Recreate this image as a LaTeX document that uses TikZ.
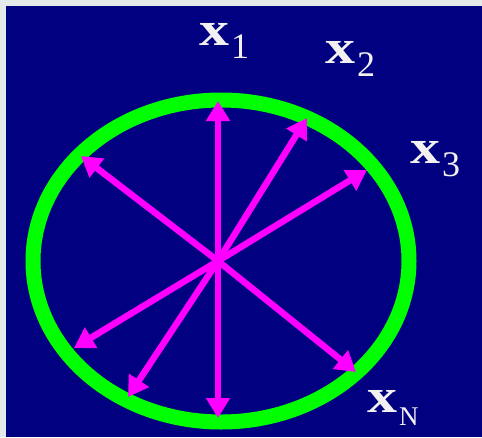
\documentclass[tikz,border=0pt]{standalone}
\usepackage{fontspec}
\setmainfont{Liberation Serif}
\usetikzlibrary{arrows.meta,shapes.geometric}
\definecolor{navybg}{RGB}{0,0,128}
\definecolor{ringgreen}{RGB}{0,255,0}
\definecolor{arrmag}{RGB}{255,0,255}
\definecolor{framegray}{RGB}{228,232,232}
\definecolor{lblwhite}{RGB}{242,240,240}
\newcommand{\lbltext}[2]{\scalebox{1.25}[1]{\fontsize{48}{48}\selectfont\bfseries x}\hspace{2pt}\raisebox{-13pt}{\fontsize{#2}{#2}\selectfont #1}}
\tikzset{
  ray/.style={draw=arrmag, line width=6.5pt, -{Triangle[length=20pt,width=23pt]}},
  ring/.style={draw=ringgreen, line width=15pt},
  lbl/.style={text=lblwhite, anchor=base west, inner sep=0pt}
}
\begin{document}
\begin{tikzpicture}[x=1pt,y=-1pt]
\useasboundingbox (0,0) rectangle (482,437);
\fill[framegray] (0,0) rectangle (482,437);
\fill[navybg] (6,6) rectangle (482,437);
\node[ring, ellipse, minimum width=376pt, minimum height=322pt, inner sep=0pt, outer sep=0pt] (ring) at (221,261) {};
\coordinate (c) at (218,261);
\coordinate (t1) at (218,101);
\coordinate (t2) at (307,118);
\coordinate (t3) at (367,170);
\coordinate (tul) at (81,156);
\coordinate (tll) at (74,348);
\coordinate (tlb) at (128,397);
\coordinate (tb) at (218,418);
\coordinate (tN) at (356,372);
\foreach \t in {t1,t2,t3,tul,tll,tlb,tb,tN} \draw[ray] (c) -- (\t);
\node[lbl] (x1) at (199,45) {\lbltext{1}{36}};
\node[lbl] (x2) at (325,63) {\lbltext{2}{36}};
\node[lbl] (x3) at (410,163) {\lbltext{3}{36}};
\node[lbl] (xN) at (367,412) {\lbltext{N}{27}};
\end{tikzpicture}
\end{document}
